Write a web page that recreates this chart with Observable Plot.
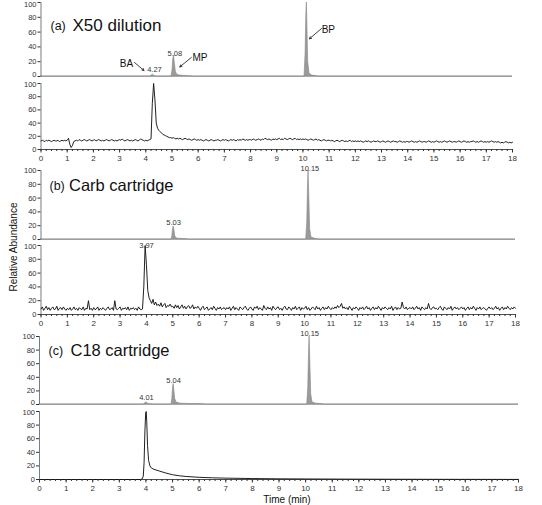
<!DOCTYPE html>
<html><head><meta charset="utf-8">
<script src="https://cdn.jsdelivr.net/npm/d3@7"></script>
<script src="https://cdn.jsdelivr.net/npm/@observablehq/plot@0.6"></script>
<style>
body{margin:0;background:#fff;}
#chart{position:relative;width:542px;height:505px;overflow:hidden;font-family:"Liberation Sans",Arial,Helvetica,sans-serif;}
.lbl{position:absolute;font-size:10px;line-height:10px;color:#111;white-space:nowrap;}
</style></head><body><div id="chart"></div>
<script>
// ---------- tick values ----------
const xTicks = [0,1,2,3,4,5,6,7,8,9,10,11,12,13,14,15,16,17,18];
const yTicks = [0,20,40,60,80,100];
const minorTicks = d3.range(0, 18.001, 0.2).map(d => +d.toFixed(1));

// ---------- (a) X50 dilution ----------
const aTopTime  = [0,4.18,4.23,4.27,4.32,4.40,4.98,5.02,5.05,5.08,5.11,5.15,5.20,5.30,5.50,5.70,5.80,10.06,10.10,10.13,10.15,10.17,10.20,10.25,10.35,10.50,10.60,18];
const aTopAbund = [0,0,1.5,2.5,1,0,0,8,24,28,18,6,2.5,1.2,0.8,0.5,0,0,30,85,100,70,20,4,1.2,0.6,0,0];
const aBotStart = 0, aBotStep = 0.05;
const aBotAbund = [
13,14,13,12,14,13,14,13,12,13,14,13,13,14,12,13,14,13,14,13,
14,17,8,3,6,12,13,14,13,15,14,13,14,15,14,13,14,15,14,13,
14,15,13,14,15,14,13,14,13,14,15,14,13,14,15,14,13,14,13,14,
15,14,16,14,13,14,15,14,13,14,13,14,15,14,13,14,16,15,14,13,
14,13,14,15,16,70,100,75,40,32,29,27,25,23,22,21,20,19,18,18,
17,18,17,16,17,16,17,16,15,16,17,16,15,16,15,14,15,16,15,14,
15,14,15,14,13,14,15,14,13,14,15,14,13,14,14,15,14,13,14,15,
14,15,14,13,14,15,14,15,14,13,15,14,15,14,16,15,14,15,14,15,
15,14,16,15,14,15,16,15,14,16,15,17,16,15,16,15,14,16,15,16,
15,16,17,15,16,15,17,16,15,16,17,16,15,16,17,15,16,15,16,15,
16,15,16,15,14,15,16,15,14,15,16,14,15,14,13,14,15,14,13,14,
14,13,14,13,12,13,14,13,12,13,14,13,12,13,12,13,14,12,13,12,
13,12,13,12,13,12,11,12,13,12,13,12,11,12,13,12,12,13,12,11,
12,13,12,11,12,13,12,11,12,13,12,12,11,12,13,12,11,12,11,12,
12,11,12,13,12,11,12,11,12,13,12,11,12,12,11,12,13,12,11,12,
11,12,13,12,11,12,11,12,13,12,11,12,13,12,11,12,12,11,12,13,
12,11,12,13,12,11,12,11,12,12,13,12,11,12,11,12,13,12,11,12,
11,12,11,12,13,12,11,12,11,12,11,10,11,10,11,12,11,10,11,10,
11];

// ---------- (b) Carb cartridge ----------
const bTopTime  = [0,4.95,4.98,5.01,5.03,5.06,5.09,5.13,5.20,5.50,5.60,10.06,10.10,10.13,10.15,10.18,10.21,10.26,10.40,10.50,10.60,18];
const bTopAbund = [0,0,4,15,19,14,5,2,1,0.6,0,0,25,80,100,60,15,3,1,0.5,0,0];
const bBotStart = 0, bBotStep = 0.05;
const bBotAbund = [
8,11,6,9,12,7,10,6,9,11,7,8,12,6,9,10,7,11,8,6,
9,7,10,6,8,11,7,9,6,10,8,7,11,6,9,8,20,7,9,6,
10,7,8,11,6,9,7,10,8,6,9,11,7,8,10,6,20,8,7,9,
11,6,9,8,10,7,11,6,9,8,10,7,9,6,11,8,7,8,40,100,
72,35,24,20,16,22,14,18,13,15,12,17,11,14,16,10,13,12,15,11,
12,9,14,10,13,8,11,14,9,12,8,11,13,9,10,14,8,11,9,12,
9,6,10,12,7,9,11,6,8,10,7,12,9,6,10,8,11,7,9,10,
7,10,8,11,6,9,12,7,10,8,6,11,9,7,10,12,8,6,9,11,
8,6,11,9,12,7,10,8,6,13,9,7,11,8,10,6,12,9,7,10,
11,7,9,6,10,12,8,7,11,9,6,10,8,12,7,9,11,6,10,8,
9,12,7,10,6,8,11,9,7,12,8,10,6,9,11,7,10,8,12,9,
7,10,8,11,9,13,10,12,16,9,11,8,10,7,12,9,6,10,8,11,
9,6,10,8,11,7,9,12,8,10,6,9,11,7,10,8,12,9,6,10,
8,11,9,7,10,8,12,6,9,11,7,10,8,9,18,10,8,11,7,9,
10,8,11,7,9,12,8,10,6,11,9,7,10,8,16,9,7,10,11,8,
9,7,10,12,8,6,11,9,7,10,8,12,6,9,11,8,10,7,9,11,
8,10,6,9,11,7,10,8,12,9,6,10,8,11,7,9,10,8,6,9,
11,8,10,7,9,12,8,10,6,9,11,7,10,8,12,9,7,10,8,11,
9];

// ---------- (c) C18 cartridge ----------
const cTopTime  = [0,3.92,3.97,4.01,4.06,4.15,4.30,4.96,4.99,5.02,5.04,5.07,5.10,5.15,5.30,5.60,6.00,6.30,10.06,10.10,10.13,10.15,10.18,10.21,10.26,10.40,10.60,10.70,18];
const cTopAbund = [0,0,2,3,1.5,0.5,0,0,8,25,30,20,8,3,1.2,0.8,0.6,0,0,25,80,100,60,15,3,1.2,0.6,0,0];
const cBotTime  = [0,3.80,3.86,3.90,3.93,3.96,3.99,4.01,4.03,4.06,4.10,4.15,4.20,4.30,4.50,4.75,5.00,5.25,5.50,6.00,6.50,7.00,8.00,9.00,10.00,11.00,12.00,14.00,16.00,18.00];
const cBotAbund = [0,0,1,5,25,70,98,100,85,50,28,20,17,15,12.5,9.5,7,5.5,4.5,3.2,2.5,2,1.4,1,0.8,0.6,0.5,0.3,0.2,0.1];

// ---------- helpers ----------
const FONT = '"Liberation Sans", Arial, Helvetica, sans-serif';
const chart = document.getElementById("chart");
const grid = (start, step, vals) => vals.map((v, i) => ({t: +(start + i * step).toFixed(3), v}));
const pairs = (ts, vs) => ts.map((t, i) => ({t, v: vs[i]}));

function grayTrace(data){
  return Plot.areaY(data, {x: "t", y: "v", fill: "#9a9a9a", stroke: "#878787", strokeWidth: 0.6});
}
function blackTrace(data){
  return Plot.lineY(data, {x: "t", y: "v", stroke: "#151515", strokeWidth: 0.95});
}
function peakText(items){
  return Plot.text(items, {x: "t", y: "v", text: "s", fontSize: 7.5, fill: "#333", textAnchor: "middle"});
}
function titleMarks(tag, name, dyc, dxTag, dxName, nameSize){
  return [
    Plot.text([tag], {frameAnchor: "top-left", dx: dxTag, dy: dyc, lineAnchor: "middle", textAnchor: "start", fontSize: 12.5, fill: "#111"}),
    Plot.text([name], {frameAnchor: "top-left", dx: dxName, dy: dyc, lineAnchor: "middle", textAnchor: "start", fontSize: nameSize, fill: "#111"})
  ];
}

function panel(cfg){
  const mt = cfg.mt, mb = cfg.mb;
  const h = mt + (cfg.y0 - cfg.y100) + mb;
  // labels nudged: 0 of upper panel up, 100 of lower panel down (and 100 of the very first panel down to stay visible)
  const nudged = cfg.bottom ? [100] : (cfg.first ? [0, 100] : [0]);
  const marks = [
    Plot.ruleY([0], {stroke: cfg.bottom ? "#222" : "#b8b8b8", strokeWidth: cfg.bottom ? 0.8 : 1}),
    ...cfg.marks,
    Plot.ruleX([0], {stroke: "#444", strokeWidth: 0.7}),
    Plot.axisY(yTicks, {tickSize: 3, tickPadding: 1.5, fontSize: 7.5, label: null, tickFormat: d => nudged.includes(d) ? "" : d}),
    Plot.text(nudged, {y: d => d, frameAnchor: "left", dx: -4.5, dy: d => 0, textAnchor: "end", fontSize: 7.5, fill: "#333"})
  ];
  // apply per-label vertical nudges
  marks[marks.length - 1] = Plot.text(nudged, {y: d => d, frameAnchor: "left", dx: -4.5,
    dy: 0, textAnchor: "end", fontSize: 7.5, fill: "#333", lineAnchor: "middle"});
  const nudgeMarks = nudged.map(d => Plot.text([d], {y: v => v, frameAnchor: "left", dx: -4.5,
    dy: d === 0 ? -1.5 : (cfg.first ? 2.5 : 1.5), textAnchor: "end", fontSize: 7.5, fill: "#333"}));
  marks.pop();
  marks.push(...nudgeMarks);
  if (cfg.bottom){
    marks.push(Plot.axisX(minorTicks, {tickSize: 2, tickFormat: () => "", label: null}));
    marks.push(Plot.axisX(xTicks, {tickSize: 3.5, tickPadding: 2, fontSize: 8, label: null}));
  }
  const svg = Plot.plot({
    width: 542, height: h,
    marginLeft: cfg.x0, marginRight: 542 - cfg.x18, marginTop: mt, marginBottom: mb,
    x: {domain: [0, 18], axis: null, label: null},
    y: {domain: [0, 100], axis: null, label: null},
    style: {fontFamily: FONT, fontSize: "8px", color: "#333", overflow: "visible", background: "transparent"},
    marks
  });
  svg.style.position = "absolute";
  svg.style.left = "0px";
  svg.style.top = (cfg.y100 - mt) + "px";
  chart.append(svg);
}

// (a) top
panel({x0: 40.5, x18: 512, y100: 2, y0: 76, mt: 2, mb: 1, bottom: false, first: true, marks: [
  grayTrace(pairs(aTopTime, aTopAbund)),
  peakText([{t: 4.33, v: 9.5, s: "4.27"}, {t: 5.11, v: 31, s: "5.08"}]),
  Plot.text([{t: 3.26, v: 17.6, s: "BA"}, {t: 6.07, v: 25.7, s: "MP"}, {t: 10.97, v: 63.5, s: "BP"}],
    {x: "t", y: "v", text: "s", fontSize: 10, fill: "#111"}),
  Plot.arrow([{x1: 3.57, y1: 18.9, x2: 3.93, y2: 8.1}, {x1: 5.74, y1: 25.7, x2: 5.30, y2: 13.0}, {x1: 10.71, y1: 64.9, x2: 10.25, y2: 51}],
    {x1: "x1", y1: "y1", x2: "x2", y2: "y2", stroke: "#111", strokeWidth: 0.8, headLength: 4}),
  ...titleMarks("(a)", "X50 dilution", 23, 9.5, 31.5, 17)
]});
// (a) bottom
panel({x0: 40.5, x18: 512, y100: 83, y0: 149, mt: 2, mb: 14, bottom: true, marks: [
  blackTrace(grid(aBotStart, aBotStep, aBotAbund))
]});
// (b) top
panel({x0: 40.5, x18: 515, y100: 170, y0: 239, mt: 4, mb: 1, bottom: false, marks: [
  grayTrace(pairs(bTopTime, bTopAbund)),
  peakText([{t: 5.03, v: 25, s: "5.03"}, {t: 10.2, v: 103, s: "10.15"}]),
  ...titleMarks("(b)", "Carb cartridge", 15, 8.5, 28, 16.5)
]});
// (b) bottom
panel({x0: 40.5, x18: 515, y100: 245, y0: 314, mt: 2, mb: 14, bottom: true, marks: [
  blackTrace(grid(bBotStart, bBotStep, bBotAbund)),
  peakText([{t: 4.0, v: 100, s: "3.97"}])
]});
// (c) top
panel({x0: 39, x18: 518, y100: 336, y0: 404, mt: 4, mb: 1, bottom: false, marks: [
  grayTrace(pairs(cTopTime, cTopAbund)),
  peakText([{t: 4.02, v: 9.5, s: "4.01"}, {t: 5.04, v: 35, s: "5.04"}, {t: 10.15, v: 104.5, s: "10.15"}]),
  ...titleMarks("(c)", "C18 cartridge", 14, 9, 31, 16.5)
]});
// (c) bottom
panel({x0: 39, x18: 518, y100: 411, y0: 479, mt: 2, mb: 14, bottom: true, marks: [
  blackTrace(pairs(cBotTime, cBotAbund))
]});

// shared axis titles
const yl = document.createElement("div");
yl.className = "lbl";
yl.textContent = "Relative Abundance";
yl.style.left = "14px"; yl.style.top = "247px";
yl.style.transform = "translate(-50%,-50%) rotate(-90deg)";
chart.append(yl);
const xl = document.createElement("div");
xl.className = "lbl";
xl.textContent = "Time (min)";
xl.style.left = "287px"; xl.style.top = "499.5px";
xl.style.transform = "translate(-50%,-50%)";
chart.append(xl);
</script></body></html>
